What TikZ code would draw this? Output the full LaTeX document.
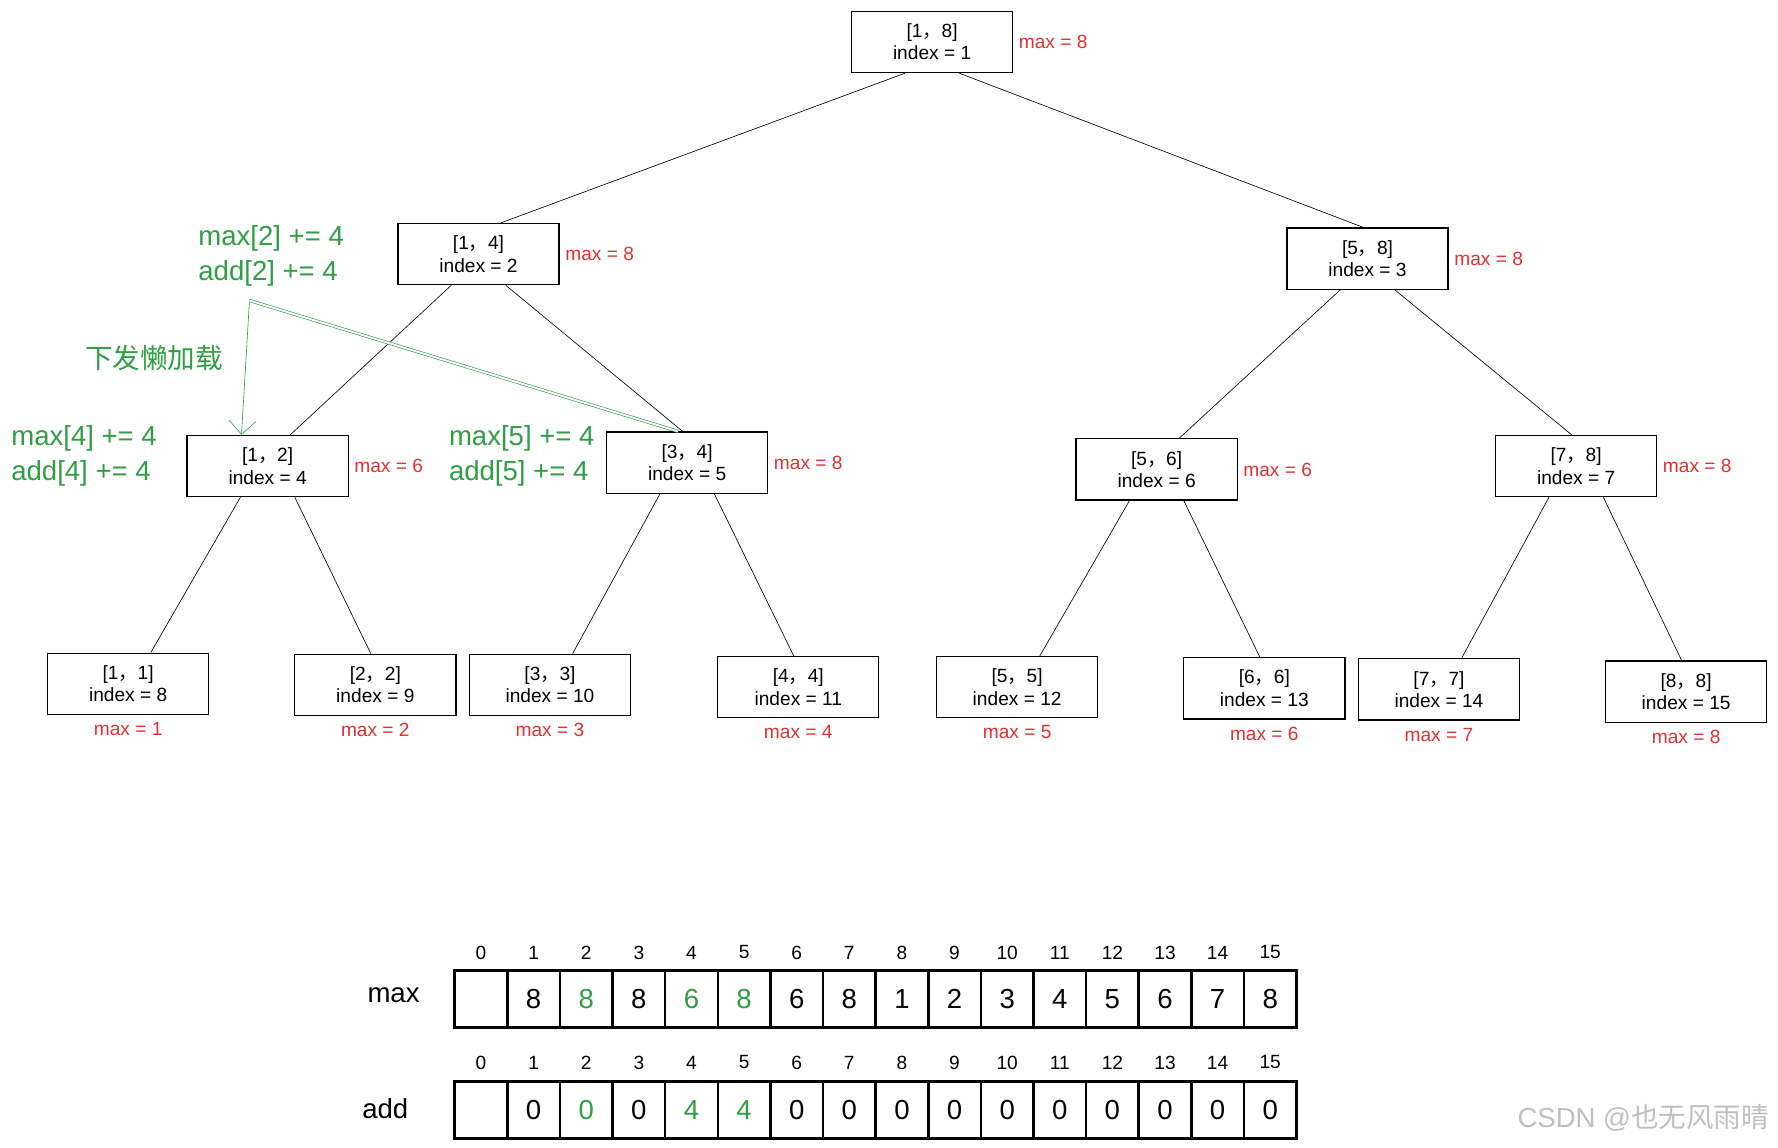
\documentclass[tikz,border=0pt]{standalone}
\usepackage{fontspec}
\setmainfont{Liberation Sans}
\newfontfamily\cjk{Noto Sans CJK SC}
\usetikzlibrary{arrows.meta}
\definecolor{maxred}{RGB}{224, 49, 49}
\definecolor{lazygreen}{RGB}{47, 158, 68}
\newcommand{\cm}{{\cjk ，}}
\begin{document}
\begin{tikzpicture}[x=0.025cm, y=-0.025cm,
        seg/.style={rectangle, draw, thick, minimum width=3.55cm, minimum height=1.35cm, align=center, font=\large, inner sep=0pt},
        maxlbl/.style={text=maxred, font=\large},
        note/.style={text=lazygreen, font=\LARGE, align=left, anchor=west},
        cell/.style={rectangle, draw, line width=1.6pt, minimum width=1.16cm, minimum height=1.25cm, font=\LARGE, inner sep=0pt},
        idx/.style={font=\large},
        edge/.style={thin}
    ]
    \useasboundingbox (0,0) rectangle (1568,1012);

    % segment tree nodes
    \node[seg] (n1) at (822,37) {[1\cm 8]\\ index = 1};
    \node[seg] (n2) at (422,224) {[1\cm 4]\\ index = 2};
    \node[seg] (n3) at (1206,228) {[5\cm 8]\\ index = 3};
    \node[seg] (n4) at (236,411) {[1\cm 2]\\ index = 4};
    \node[seg] (n5) at (606,408) {[3\cm 4]\\ index = 5};
    \node[seg] (n6) at (1020,414) {[5\cm 6]\\ index = 6};
    \node[seg] (n7) at (1390,411) {[7\cm 8]\\ index = 7};
    \node[seg] (n8) at (113,603) {[1\cm 1]\\ index = 8};
    \node[seg] (n9) at (331,604) {[2\cm 2]\\ index = 9};
    \node[seg] (n10) at (485,604) {[3\cm 3]\\ index = 10};
    \node[seg] (n11) at (704,606) {[4\cm 4]\\ index = 11};
    \node[seg] (n12) at (897,606) {[5\cm 5]\\ index = 12};
    \node[seg] (n13) at (1115,607) {[6\cm 6]\\ index = 13};
    \node[seg] (n14) at (1269,608) {[7\cm 7]\\ index = 14};
    \node[seg] (n15) at (1487,610) {[8\cm 8]\\ index = 15};

    % max labels
    \node[maxlbl, anchor=west] (m1) at (n1.east) {max = 8};
    \node[maxlbl, anchor=west] (m2) at (n2.east) {max = 8};
    \node[maxlbl, anchor=west] (m3) at (n3.east) {max = 8};
    \node[maxlbl, anchor=west] (m4) at (n4.east) {max = 6};
    \node[maxlbl, anchor=west] (m5) at (n5.east) {max = 8};
    \node[maxlbl, anchor=west] (m6) at (n6.east) {max = 6};
    \node[maxlbl, anchor=west] (m7) at (n7.east) {max = 8};
    \foreach \i/\v in {8/1, 9/2, 10/3, 11/4, 12/5, 13/6, 14/7, 15/8}
        \node[maxlbl, below=1pt] (m\i) at (n\i.south) {max = \v};

    % tree edges
    \foreach \p/\l/\r in {n1/n2/n3, n2/n4/n5, n3/n6/n7, n4/n8/n9, n5/n10/n11, n6/n12/n13, n7/n14/n15} {
        \draw[edge] ([xshift=-0.6cm]\p.south) -- ([xshift=0.5cm]\l.north);
        \draw[edge] ([xshift=0.6cm]\p.south) -- ([xshift=-0.1cm]\r.north);
    }

    % lazy propagation notes
    \node[note] (t2) at (170,226) {max[2] += 4\\ add[2] += 4};
    \node[note, font=\LARGE\cjk] (lazy) at (70,316) {下发懒加载};
    \node[note] (t4) at (5,402) {max[4] += 4\\ add[4] += 4};
    \node[note] (t5) at (391,402) {max[5] += 4\\ add[5] += 4};
    \coordinate (src) at (220,265);
    \draw[lazygreen, -{Straight Barb[length=3mm]}] (src) -- (n4.north -| 213,0);
    \draw[lazygreen, double, double distance=1.2pt] (src) -- ([xshift=-0.2cm]n5.north);

    % arrays
    \node[idx, anchor=east] (maxname) at (375,878) {\LARGE max};
    \node[idx, anchor=east] (addname) at (365,978) {\LARGE add};
    \foreach \i/\v/\a in {0//, 1/8/0, 2/\textcolor{lazygreen}{8}/\textcolor{lazygreen}{0}, 3/8/0,
        4/\textcolor{lazygreen}{6}/\textcolor{lazygreen}{4}, 5/\textcolor{lazygreen}{8}/\textcolor{lazygreen}{4},
        6/6/0, 7/8/0, 8/1/0, 9/2/0, 10/3/0, 11/4/0, 12/5/0, 13/6/0, 14/7/0, 15/8/0} {
        \node[cell] (mx\i) at (424.2+46.4*\i,881) {\v};
        \node[cell] (ad\i) at (424.2+46.4*\i,979) {\a};
        \node[idx] (mi\i) at (424.2+46.4*\i,840) {\i};
        \node[idx] (ai\i) at (424.2+46.4*\i,937) {\i};
    }

    % watermark
    \node[text=gray!50, font=\LARGE, anchor=east] (wm) at (1565,986) {CSDN @{\cjk 也无风雨晴}};
\end{tikzpicture}
\end{document}
